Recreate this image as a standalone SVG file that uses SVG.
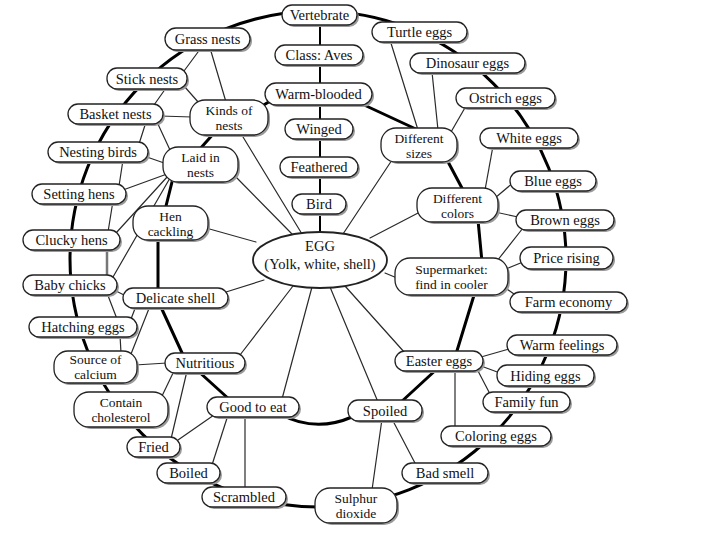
<svg xmlns="http://www.w3.org/2000/svg" width="720" height="540" viewBox="0 0 720 540">
<style>
.t{stroke:#2a2a2a;stroke-width:1.2;fill:none;stroke-linecap:round}
.k{stroke:#000;stroke-width:3;fill:none;stroke-linecap:round}
.m{stroke:#000;stroke-width:2;fill:none}
.g{stroke:#777;stroke-width:2.5;fill:none}
.sh{fill:#9a9a9a}
.nd{fill:#fff;stroke:#222;stroke-width:1.3}
text{font-family:"Liberation Serif","Times New Roman",serif;font-size:14.5px;fill:#111;text-anchor:middle}
text.two{font-size:13.5px}
</style>
<rect width="720" height="540" fill="#fff"/>
<g id="connectors">
<circle class="k" cx="318" cy="259" r="248"/>
<line class="m" x1="320" y1="22" x2="320" y2="240"/>
<line class="k" x1="262" y1="106" x2="272" y2="100"/>
<line class="k" x1="362" y1="104" x2="418" y2="130"/>
<line class="k" x1="446" y1="158" x2="463" y2="190"/>
<line class="k" x1="478" y1="220" x2="482" y2="262"/>
<line class="k" x1="475" y1="292" x2="456" y2="354"/>
<line class="k" x1="438" y1="368" x2="400" y2="403"/>
<path class="k" d="M352 417 Q315 433 280 414"/>
<line class="k" x1="230" y1="400" x2="198" y2="371"/>
<line class="k" x1="183" y1="355" x2="160" y2="305"/>
<line class="k" x1="158" y1="292" x2="158" y2="238"/>
<line class="k" x1="165" y1="210" x2="173" y2="178"/>
<line class="k" x1="199" y1="150" x2="215" y2="132"/>
<line class="t" x1="210" y1="48" x2="226" y2="102"/>
<line class="t" x1="201" y1="48" x2="184" y2="71"/>
<line class="t" x1="184" y1="86" x2="199" y2="103"/>
<line class="t" x1="166" y1="88" x2="154" y2="105"/>
<line class="t" x1="160" y1="116" x2="192" y2="117"/>
<line class="t" x1="157" y1="122" x2="170" y2="150"/>
<line class="t" x1="146" y1="122" x2="139" y2="144"/>
<line class="t" x1="144" y1="156" x2="167" y2="164"/>
<line class="t" x1="123" y1="160" x2="119" y2="186"/>
<line class="t" x1="123" y1="190" x2="167" y2="174"/>
<line class="t" x1="168" y1="176" x2="116" y2="233"/>
<line class="t" x1="170" y1="178" x2="113" y2="277"/>
<line class="t" x1="113" y1="201" x2="108" y2="232"/>
<line class="g" x1="107" y1="248" x2="107" y2="277"/>
<line class="t" x1="206" y1="228" x2="256" y2="242"/>
<line class="t" x1="226" y1="292" x2="264" y2="280"/>
<line class="t" x1="126" y1="296" x2="114" y2="290"/>
<line class="t" x1="107" y1="293" x2="117" y2="319"/>
<line class="t" x1="136" y1="306" x2="131" y2="319"/>
<line class="t" x1="120" y1="335" x2="121" y2="353"/>
<line class="t" x1="150" y1="306" x2="131" y2="354"/>
<line class="t" x1="135" y1="365" x2="167" y2="363"/>
<line class="t" x1="174" y1="371" x2="162" y2="396"/>
<line class="t" x1="187" y1="371" x2="171" y2="439"/>
<line class="t" x1="240" y1="355" x2="293" y2="286"/>
<line class="t" x1="282" y1="399" x2="312" y2="287"/>
<line class="t" x1="378" y1="402" x2="330" y2="287"/>
<line class="t" x1="405" y1="353" x2="345" y2="286"/>
<line class="t" x1="385" y1="273" x2="397" y2="278"/>
<line class="t" x1="370" y1="238" x2="420" y2="212"/>
<line class="t" x1="343" y1="234" x2="392" y2="160"/>
<line class="t" x1="240" y1="132" x2="302" y2="234"/>
<line class="t" x1="234" y1="175" x2="292" y2="234"/>
<line class="t" x1="214" y1="415" x2="178" y2="440"/>
<line class="t" x1="228" y1="415" x2="212" y2="465"/>
<line class="t" x1="245" y1="415" x2="245" y2="489"/>
<line class="t" x1="382" y1="419" x2="372" y2="490"/>
<line class="t" x1="392" y1="419" x2="416" y2="465"/>
<line class="t" x1="481" y1="357" x2="509" y2="349"/>
<line class="t" x1="481" y1="366" x2="500" y2="373"/>
<line class="t" x1="477" y1="369" x2="490" y2="394"/>
<line class="t" x1="455" y1="369" x2="455" y2="428"/>
<line class="t" x1="504" y1="287" x2="514" y2="294"/>
<line class="t" x1="506" y1="269" x2="523" y2="262"/>
<line class="t" x1="497" y1="261" x2="523" y2="228"/>
<line class="t" x1="518" y1="217" x2="495" y2="212"/>
<line class="t" x1="514" y1="182" x2="495" y2="198"/>
<line class="t" x1="493" y1="146" x2="485" y2="190"/>
<line class="t" x1="390" y1="40" x2="418" y2="130"/>
<line class="t" x1="432" y1="72" x2="438" y2="130"/>
<line class="t" x1="466" y1="106" x2="451" y2="132"/>
</g>
<g id="n-vertebrate"><rect class="sh" x="284" y="7" width="75" height="20" rx="10"/><rect class="nd" x="282" y="5" width="75" height="20" rx="10"/><text x="319.5" y="20">Vertebrate</text></g>
<g id="n-turtle"><rect class="sh" x="374" y="24" width="95" height="20" rx="10"/><rect class="nd" x="372" y="22" width="95" height="20" rx="10"/><text x="419.5" y="37">Turtle eggs</text></g>
<g id="n-classaves"><rect class="sh" x="277" y="47" width="88" height="20" rx="10"/><rect class="nd" x="275" y="45" width="88" height="20" rx="10"/><text x="319" y="60">Class: Aves</text></g>
<g id="n-grass"><rect class="sh" x="167" y="30" width="85" height="22" rx="11"/><rect class="nd" x="165" y="28" width="85" height="22" rx="11"/><text x="207.5" y="44">Grass nests</text></g>
<g id="n-dinosaur"><rect class="sh" x="412" y="55" width="115" height="20" rx="10"/><rect class="nd" x="410" y="53" width="115" height="20" rx="10"/><text x="467.5" y="68">Dinosaur eggs</text></g>
<g id="n-stick"><rect class="sh" x="109" y="70" width="80" height="21" rx="10"/><rect class="nd" x="107" y="68" width="80" height="21" rx="10"/><text x="147" y="83.5">Stick nests</text></g>
<g id="n-warmblooded"><rect class="sh" x="267" y="85" width="107" height="22" rx="11"/><rect class="nd" x="265" y="83" width="107" height="22" rx="11"/><text x="318.5" y="99">Warm-blooded</text></g>
<g id="n-ostrich"><rect class="sh" x="458" y="90" width="99" height="20" rx="10"/><rect class="nd" x="456" y="88" width="99" height="20" rx="10"/><text x="505.5" y="103">Ostrich eggs</text></g>
<g id="n-basket"><rect class="sh" x="70" y="106" width="95" height="20" rx="10"/><rect class="nd" x="68" y="104" width="95" height="20" rx="10"/><text x="115.5" y="119">Basket nests</text></g>
<g id="n-kinds"><rect class="sh" x="192" y="102" width="78" height="35" rx="15"/><rect class="nd" x="190" y="100" width="78" height="35" rx="15"/><text class="two" x="229" y="115">Kinds of</text><text class="two" x="229" y="130">nests</text></g>
<g id="n-winged"><rect class="sh" x="287" y="121" width="68" height="20" rx="10"/><rect class="nd" x="285" y="119" width="68" height="20" rx="10"/><text x="319" y="134">Winged</text></g>
<g id="n-diffsizes"><rect class="sh" x="383" y="130" width="76" height="34" rx="15"/><rect class="nd" x="381" y="128" width="76" height="34" rx="15"/><text class="two" x="419" y="142.5">Different</text><text class="two" x="419" y="157.5">sizes</text></g>
<g id="n-white"><rect class="sh" x="482" y="130" width="98" height="20" rx="10"/><rect class="nd" x="480" y="128" width="98" height="20" rx="10"/><text x="529" y="143">White eggs</text></g>
<g id="n-nesting"><rect class="sh" x="50" y="144" width="100" height="20" rx="10"/><rect class="nd" x="48" y="142" width="100" height="20" rx="10"/><text x="98" y="157">Nesting birds</text></g>
<g id="n-laid"><rect class="sh" x="165" y="149" width="75" height="35" rx="15"/><rect class="nd" x="163" y="147" width="75" height="35" rx="15"/><text class="two" x="200.5" y="162">Laid in</text><text class="two" x="200.5" y="177">nests</text></g>
<g id="n-feathered"><rect class="sh" x="282" y="159" width="78" height="20" rx="10"/><rect class="nd" x="280" y="157" width="78" height="20" rx="10"/><text x="319" y="172">Feathered</text></g>
<g id="n-blue"><rect class="sh" x="512" y="173" width="86" height="20" rx="10"/><rect class="nd" x="510" y="171" width="86" height="20" rx="10"/><text x="553" y="186">Blue eggs</text></g>
<g id="n-setting"><rect class="sh" x="34" y="186" width="94" height="20" rx="10"/><rect class="nd" x="32" y="184" width="94" height="20" rx="10"/><text x="79" y="199">Setting hens</text></g>
<g id="n-diffcolors"><rect class="sh" x="419" y="190" width="81" height="34" rx="15"/><rect class="nd" x="417" y="188" width="81" height="34" rx="15"/><text class="two" x="457.5" y="202.5">Different</text><text class="two" x="457.5" y="217.5">colors</text></g>
<g id="n-bird"><rect class="sh" x="294" y="196" width="54" height="20" rx="10"/><rect class="nd" x="292" y="194" width="54" height="20" rx="10"/><text x="319" y="209">Bird</text></g>
<g id="n-hen"><rect class="sh" x="135" y="208" width="75" height="34" rx="15"/><rect class="nd" x="133" y="206" width="75" height="34" rx="15"/><text class="two" x="170.5" y="220.5">Hen</text><text class="two" x="170.5" y="235.5">cackling</text></g>
<g id="n-brown"><rect class="sh" x="518" y="212" width="98" height="20" rx="10"/><rect class="nd" x="516" y="210" width="98" height="20" rx="10"/><text x="565" y="225">Brown eggs</text></g>
<g id="n-clucky"><rect class="sh" x="25" y="232" width="97" height="20" rx="10"/><rect class="nd" x="23" y="230" width="97" height="20" rx="10"/><text x="71.5" y="245">Clucky hens</text></g>
<g id="n-egg"><ellipse cx="320" cy="260" rx="67" ry="28" fill="#fff" stroke="#222" stroke-width="1.8"/><text x="320" y="251">EGG</text><text x="320" y="269">(Yolk, white, shell)</text></g>
<g id="n-supermarket"><rect class="sh" x="397" y="260" width="113" height="37" rx="15"/><rect class="nd" x="395" y="258" width="113" height="37" rx="15"/><text class="two" x="451.5" y="274">Supermarket:</text><text class="two" x="451.5" y="289">find in cooler</text></g>
<g id="n-price"><rect class="sh" x="522" y="249" width="93" height="22" rx="11"/><rect class="nd" x="520" y="247" width="93" height="22" rx="11"/><text x="566.5" y="263">Price rising</text></g>
<g id="n-baby"><rect class="sh" x="25" y="277" width="94" height="20" rx="10"/><rect class="nd" x="23" y="275" width="94" height="20" rx="10"/><text x="70" y="290">Baby chicks</text></g>
<g id="n-delicate"><rect class="sh" x="125" y="290" width="105" height="20" rx="10"/><rect class="nd" x="123" y="288" width="105" height="20" rx="10"/><text x="175.5" y="303">Delicate shell</text></g>
<g id="n-farm"><rect class="sh" x="512" y="294" width="117" height="20" rx="10"/><rect class="nd" x="510" y="292" width="117" height="20" rx="10"/><text x="568.5" y="307">Farm economy</text></g>
<g id="n-hatching"><rect class="sh" x="31" y="319" width="108" height="20" rx="10"/><rect class="nd" x="29" y="317" width="108" height="20" rx="10"/><text x="83" y="332">Hatching eggs</text></g>
<g id="n-source"><rect class="sh" x="56" y="353" width="83" height="32" rx="14"/><rect class="nd" x="54" y="351" width="83" height="32" rx="14"/><text class="two" x="95.5" y="364">Source of</text><text class="two" x="95.5" y="379">calcium</text></g>
<g id="n-nutritious"><rect class="sh" x="167" y="355" width="80" height="20" rx="10"/><rect class="nd" x="165" y="353" width="80" height="20" rx="10"/><text x="205" y="368">Nutritious</text></g>
<g id="n-easter"><rect class="sh" x="397" y="353" width="88" height="20" rx="10"/><rect class="nd" x="395" y="351" width="88" height="20" rx="10"/><text x="439" y="366">Easter eggs</text></g>
<g id="n-warmfeel"><rect class="sh" x="509" y="337" width="110" height="20" rx="10"/><rect class="nd" x="507" y="335" width="110" height="20" rx="10"/><text x="562" y="350">Warm feelings</text></g>
<g id="n-hiding"><rect class="sh" x="499" y="367" width="97" height="21" rx="10"/><rect class="nd" x="497" y="365" width="97" height="21" rx="10"/><text x="545.5" y="380.5">Hiding eggs</text></g>
<g id="n-contain"><rect class="sh" x="76" y="394" width="94" height="35" rx="15"/><rect class="nd" x="74" y="392" width="94" height="35" rx="15"/><text class="two" x="121" y="407">Contain</text><text class="two" x="121" y="422">cholesterol</text></g>
<g id="n-goodeat"><rect class="sh" x="209" y="399" width="92" height="20" rx="10"/><rect class="nd" x="207" y="397" width="92" height="20" rx="10"/><text x="253" y="412">Good to eat</text></g>
<g id="n-spoiled"><rect class="sh" x="350" y="402" width="74" height="21" rx="10"/><rect class="nd" x="348" y="400" width="74" height="21" rx="10"/><text x="385" y="415.5">Spoiled</text></g>
<g id="n-family"><rect class="sh" x="485" y="394" width="87" height="20" rx="10"/><rect class="nd" x="483" y="392" width="87" height="20" rx="10"/><text x="526.5" y="407">Family fun</text></g>
<g id="n-coloring"><rect class="sh" x="443" y="428" width="110" height="20" rx="10"/><rect class="nd" x="441" y="426" width="110" height="20" rx="10"/><text x="496" y="441">Coloring eggs</text></g>
<g id="n-fried"><rect class="sh" x="129" y="439" width="53" height="20" rx="10"/><rect class="nd" x="127" y="437" width="53" height="20" rx="10"/><text x="153.5" y="452">Fried</text></g>
<g id="n-boiled"><rect class="sh" x="159" y="465" width="63" height="20" rx="10"/><rect class="nd" x="157" y="463" width="63" height="20" rx="10"/><text x="188.5" y="478">Boiled</text></g>
<g id="n-badsmell"><rect class="sh" x="404" y="465" width="86" height="20" rx="10"/><rect class="nd" x="402" y="463" width="86" height="20" rx="10"/><text x="445" y="478">Bad smell</text></g>
<g id="n-scrambled"><rect class="sh" x="204" y="489" width="84" height="20" rx="10"/><rect class="nd" x="202" y="487" width="84" height="20" rx="10"/><text x="244" y="502">Scrambled</text></g>
<g id="n-sulphur"><rect class="sh" x="317" y="490" width="82" height="35" rx="15"/><rect class="nd" x="315" y="488" width="82" height="35" rx="15"/><text class="two" x="356" y="503">Sulphur</text><text class="two" x="356" y="518">dioxide</text></g>
</svg>
